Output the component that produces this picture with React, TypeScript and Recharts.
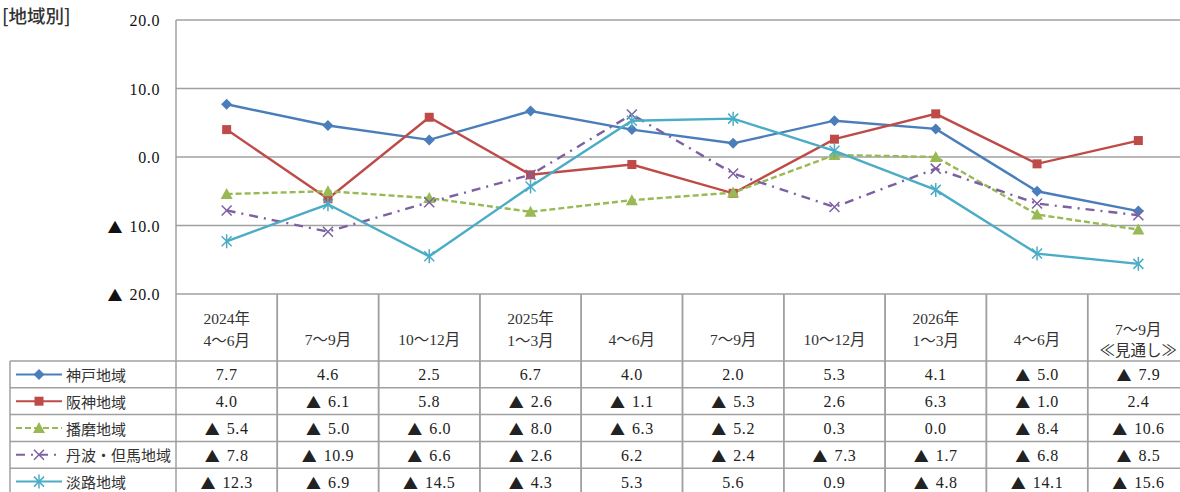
import { LineChart, Line, XAxis, YAxis, CartesianGrid } from 'recharts'

const yearLabels = ['2024年', '', '', '2025年', '', '', '', '2026年', '', '']
const quarterLabels = ['4〜6月', '7〜9月', '10〜12月', '1〜3月', '4〜6月', '7〜9月', '10〜12月', '1〜3月', '4〜6月', '7〜9月']
const noteLabels = ['', '', '', '', '', '', '', '', '', '≪見通し≫']

const kobe = [7.7, 4.6, 2.5, 6.7, 4.0, 2.0, 5.3, 4.1, -5.0, -7.9]
const hanshin = [4.0, -6.1, 5.8, -2.6, -1.1, -5.3, 2.6, 6.3, -1.0, 2.4]
const harima = [-5.4, -5.0, -6.0, -8.0, -6.3, -5.2, 0.3, 0.0, -8.4, -10.6]
const tanbaTajima = [-7.8, -10.9, -6.6, -2.6, 6.2, -2.4, -7.3, -1.7, -6.8, -8.5]
const awaji = [-12.3, -6.9, -14.5, -4.3, 5.3, 5.6, 0.9, -4.8, -14.1, -15.6]

const yTicks = [20, 10, 0, -10, -20]

const series = [
  { key: 'kobe', name: '神戸地域', values: kobe, color: '#4a7ebb', shape: 'diamond', dash: undefined },
  { key: 'hanshin', name: '阪神地域', values: hanshin, color: '#be4b48', shape: 'square', dash: undefined },
  { key: 'harima', name: '播磨地域', values: harima, color: '#98b954', shape: 'triangle', dash: '6 3' },
  { key: 'tanba', name: '丹波・但馬地域', values: tanbaTajima, color: '#7d60a0', shape: 'x', dash: '9 6 2 6' },
  { key: 'awaji', name: '淡路地域', values: awaji, color: '#4bacc6', shape: 'star', dash: undefined },
]

const data = quarterLabels.map((q, i) => {
  const row: Record<string, string | number> = { period: yearLabels[i] + q + noteLabels[i] }
  series.forEach((s) => { row[s.key] = s.values[i] })
  return row
})

const FONT = "'Liberation Serif', 'Noto Sans CJK JP', serif"
const GOTHIC = "'Noto Sans CJK JP', sans-serif"
const GRID = '#a0a0a0'

const PLOT_LEFT = 176
const PLOT_W = 1013
const COL_W = PLOT_W / quarterLabels.length
const HEADER_H = 67
const ROW_H = 26.8
const TABLE_LEFT = 10

// negative values are shown with a black triangle, as in the source table
const Num = ({ v, ...rest }: any) => (
  <text dominantBaseline="central" fontSize={16} fontFamily={FONT} fill="#222" letterSpacing={0.6} {...rest}>
    {v < 0 && (
      <tspan fontFamily={GOTHIC} fontSize={15} letterSpacing={0}>
        ▲
      </tspan>
    )}
    <tspan dx={v < 0 ? 7 : 0}>{Math.abs(v).toFixed(1)}</tspan>
  </text>
)

const Marker = ({ cx, cy, shape, color }: { cx: number; cy: number; shape: string; color: string }) => {
  if (shape === 'diamond')
    return <path d={`M${cx},${cy - 5.5}L${cx + 5.5},${cy}L${cx},${cy + 5.5}L${cx - 5.5},${cy}Z`} fill={color} />
  if (shape === 'square') return <rect x={cx - 4.5} y={cy - 4.5} width={9} height={9} fill={color} />
  if (shape === 'triangle')
    return <path d={`M${cx},${cy - 6}L${cx + 6},${cy + 5}L${cx - 6},${cy + 5}Z`} fill={color} />
  const x = (
    <path d={`M${cx - 5},${cy - 5}L${cx + 5},${cy + 5}M${cx - 5},${cy + 5}L${cx + 5},${cy - 5}`} stroke={color} strokeWidth={1.5} fill="none" />
  )
  if (shape === 'x') return x
  return (
    <g>
      {x}
      <path d={`M${cx},${cy - 7}L${cx},${cy + 7}`} stroke={color} strokeWidth={1.5} />
    </g>
  )
}

const YTick = ({ x, y, payload }: any) => <Num x={x} y={y} textAnchor="end" v={payload.value} fill="#111" />

const TableColumn = ({ x, y, index }: any) => {
  const i = index as number
  const left = x - COL_W / 2
  const right = x + COL_W / 2
  const bottom = y + HEADER_H + ROW_H * series.length
  const headerLines: { t: string; y: number }[] = noteLabels[i]
    ? [{ t: quarterLabels[i], y: y + 35 }, { t: noteLabels[i], y: y + 56 }]
    : yearLabels[i]
    ? [{ t: yearLabels[i], y: y + 24 }, { t: quarterLabels[i], y: y + 46 }]
    : [{ t: quarterLabels[i], y: y + 45 }]
  return (
    <g>
      <line x1={left} x2={left} y1={y} y2={bottom} stroke={GRID} strokeWidth={1.5} />
      <line x1={right} x2={right} y1={y} y2={bottom} stroke={GRID} strokeWidth={1.5} />
      {series.map((s, r) => (
        <line key={s.key} x1={left} x2={right} y1={y + HEADER_H + ROW_H * r} y2={y + HEADER_H + ROW_H * r} stroke={GRID} strokeWidth={1.5} />
      ))}
      {headerLines.map((h, k) => (
        <text key={k} x={x} y={h.y} textAnchor="middle" dominantBaseline="central" fontSize={15.5} fontFamily={FONT} fill="#333">
          {h.t}
        </text>
      ))}
      {series.map((s, r) => (
        <Num key={s.key} x={x} y={y + HEADER_H + ROW_H * (r + 0.5)} textAnchor="middle" v={s.values[i]} />
      ))}
      {i === 0 && (
        <g>
          <line x1={TABLE_LEFT} x2={TABLE_LEFT} y1={y + HEADER_H} y2={bottom} stroke={GRID} strokeWidth={1.5} />
          {series.map((s, r) => {
            const rowTop = y + HEADER_H + ROW_H * r
            const cy = rowTop + ROW_H / 2
            return (
              <g key={s.key}>
                <line x1={TABLE_LEFT} x2={left} y1={rowTop} y2={rowTop} stroke={GRID} strokeWidth={1.5} />
                <line x1={16} x2={62} y1={cy} y2={cy} stroke={s.color} strokeWidth={2} strokeDasharray={s.dash} />
                <Marker cx={39} cy={cy} shape={s.shape} color={s.color} />
                <text x={66} y={cy} dominantBaseline="central" fontSize={15} fontFamily={GOTHIC} fill="#333">
                  {s.name}
                </text>
              </g>
            )
          })}
        </g>
      )}
    </g>
  )
}

export default function App() {
  return (
    <div style={{ position: 'absolute', left: 0, top: 0, width: 1180, height: 492, overflow: 'hidden', background: '#fff' }}>
      <style>{'body{margin:0;overflow:hidden}'}</style>
      <div style={{ position: 'absolute', left: 2, top: 3, fontFamily: GOTHIC, fontSize: 18.5, color: '#333', fontWeight: 500, lineHeight: '24px' }}>
        [地域別]
      </div>
      <LineChart width={1190} height={492} data={data} margin={{ top: 20, right: 1, bottom: 0, left: 0 }}>
        <CartesianGrid horizontal vertical={false} stroke={GRID} strokeWidth={1.5} />
        <XAxis
          dataKey="period"
          height={198}
          interval={0}
          axisLine={false}
          tickLine={false}
          tickSize={0}
          tickMargin={0}
          padding={{ left: COL_W / 2, right: COL_W / 2 }}
          tick={(p: any) => <TableColumn key={p.index} {...p} />}
        />
        <YAxis
          width={PLOT_LEFT}
          domain={[-20, 20]}
          ticks={yTicks}
          interval={0}
          axisLine={{ stroke: GRID, strokeWidth: 1.5 }}
          tickLine={false}
          tickSize={0}
          tickMargin={16}
          tick={(p: any) => <YTick key={p.index} {...p} />}
        />
        {series.map((s) => (
          <Line
            key={s.key}
            dataKey={s.key}
            name={s.name}
            stroke={s.color}
            strokeWidth={2.4}
            strokeDasharray={s.dash}
            isAnimationActive={false}
            dot={(p: any) => <Marker key={`${s.key}-${p.index}`} cx={p.cx} cy={p.cy} shape={s.shape} color={s.color} />}
            activeDot={false}
          />
        ))}
      </LineChart>
    </div>
  )
}
